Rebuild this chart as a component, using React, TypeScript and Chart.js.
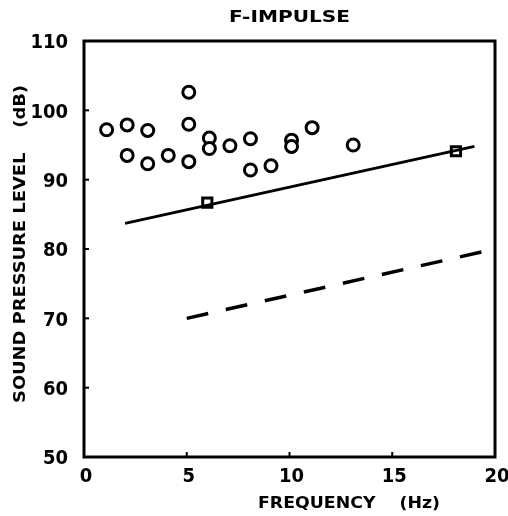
import React, { useEffect, useRef } from "react";
import { Chart, registerables } from "chart.js";

Chart.register(...registerables);

const circleX = [1.1, 2.1, 3.1, 2.1, 3.1, 4.1, 5.1, 5.1, 5.1, 6.1, 6.1, 7.1, 8.1, 8.1, 9.1, 10.1, 10.1, 11.1, 13.1];
const circleY = [97.2, 97.9, 97.1, 93.5, 92.3, 93.5, 102.6, 98.0, 92.6, 96.0, 94.5, 94.9, 95.9, 91.4, 92.0, 95.7, 94.8, 97.5, 95.0];
const squareX = [6.0, 18.1];
const squareY = [86.7, 94.1];
const solidX = [2, 19];
const solidY = [83.7, 94.8];
const dashedX = [5, 20];
const dashedY = [70, 80];
const xTicks = [0, 5, 10, 15, 20];
const yTicks = [50, 60, 70, 80, 90, 100, 110];
const chartTitle = "F-IMPULSE";
const xTitle = "FREQUENCY    (Hz)";
const yTitle = "SOUND PRESSURE LEVEL    (dB)";

const FONT = "'DejaVu Sans Condensed', 'DejaVu Sans', sans-serif";

const pts = (xs: number[], ys: number[]) => xs.map((x, i) => ({ x, y: ys[i] }));

function drawFitted(ctx: CanvasRenderingContext2D, text: string, cx: number, cy: number, width: number, size: number, rot = 0) {
  ctx.save();
  ctx.font = `bold ${size}px ${FONT}`;
  const w = ctx.measureText(text).width;
  ctx.translate(cx, cy);
  if (rot) ctx.rotate(rot);
  ctx.scale(width / w, 1);
  ctx.textAlign = "center";
  ctx.textBaseline = "middle";
  ctx.fillStyle = "#000";
  ctx.fillText(text, 0, 0);
  ctx.restore();
}

const framePlugin = {
  id: "frame",
  afterDatasetsDraw(chart: any) {
    const { ctx, chartArea: a, scales } = chart;
    ctx.save();
    ctx.strokeStyle = "#000";
    ctx.lineWidth = 3;
    ctx.strokeRect(a.left, a.top, a.right - a.left, a.bottom - a.top);
    ctx.lineWidth = 2;
    xTicks.slice(1, -1).forEach((v) => {
      const px = scales.x.getPixelForValue(v);
      ctx.beginPath();
      ctx.moveTo(px, a.bottom);
      ctx.lineTo(px, a.bottom - 5);
      ctx.stroke();
    });
    yTicks.slice(1, -1).forEach((v) => {
      const py = scales.y.getPixelForValue(v);
      ctx.beginPath();
      ctx.moveTo(a.left, py);
      ctx.lineTo(a.left + 5, py);
      ctx.stroke();
    });
    ctx.restore();
    drawFitted(ctx, chartTitle, (a.left + a.right) / 2, 18, 121, 15);
    drawFitted(ctx, xTitle, 349, 504, 182, 15);
    drawFitted(ctx, yTitle, 21, 244, 318, 15, -Math.PI / 2);
  },
};

export default function App() {
  const ref = useRef<HTMLCanvasElement>(null);
  useEffect(() => {
    if (!ref.current) return;
    const chart = new Chart(ref.current, {
      type: "scatter",
      data: {
        datasets: [
          {
            type: "line",
            data: pts(solidX, solidY),
            borderColor: "#000",
            borderWidth: 3,
            pointRadius: 0,
          },
          {
            type: "line",
            data: pts(dashedX, dashedY),
            borderColor: "#000",
            borderWidth: 3.5,
            borderDash: [22, 18],
            pointRadius: 0,
          },
          {
            data: pts(squareX, squareY),
            pointStyle: "rect",
            pointRadius: 6.5,
            backgroundColor: "#fff",
            borderColor: "#000",
            borderWidth: 3,
          },
          {
            data: pts(circleX, circleY),
            pointStyle: "circle",
            pointRadius: 6,
            backgroundColor: "#fff",
            borderColor: "#000",
            borderWidth: 3,
          },
        ],
      } as any,
      options: {
        animation: false,
        responsive: false,
        layout: { padding: { left: 0, right: 13, top: 41, bottom: 0 } },
        plugins: { legend: { display: false }, tooltip: { enabled: false }, title: { display: false } },
        scales: {
          x: {
            type: "linear",
            min: 0,
            max: 20,
            afterFit: (s: any) => { s.height = 59; s.paddingLeft = 0; s.paddingRight = 0; },
            afterBuildTicks: (s: any) => { s.ticks = xTicks.map((v) => ({ value: v })); },
            grid: { display: false, drawTicks: false },
            border: { display: false },
            ticks: { color: "#000", padding: 8, labelOffset: 2, font: { family: FONT, size: 20, weight: "bold" } },
          },
          y: {
            type: "linear",
            min: 50,
            max: 110,
            afterFit: (s: any) => { s.width = 84; s.paddingTop = 0; s.paddingBottom = 0; },
            afterBuildTicks: (s: any) => { s.ticks = yTicks.map((v) => ({ value: v })); },
            grid: { display: false, drawTicks: false },
            border: { display: false },
            ticks: { color: "#000", padding: 16, labelOffset: 2, font: { family: FONT, size: 20, weight: "bold" } },
          },
        },
      },
      plugins: [framePlugin],
    });
    return () => chart.destroy();
  }, []);
  return (
    <div style={{ position: "fixed", left: 0, top: 0, width: 508, height: 516, background: "#fff" }}>
      <canvas ref={ref} width={508} height={516} />
    </div>
  );
}
